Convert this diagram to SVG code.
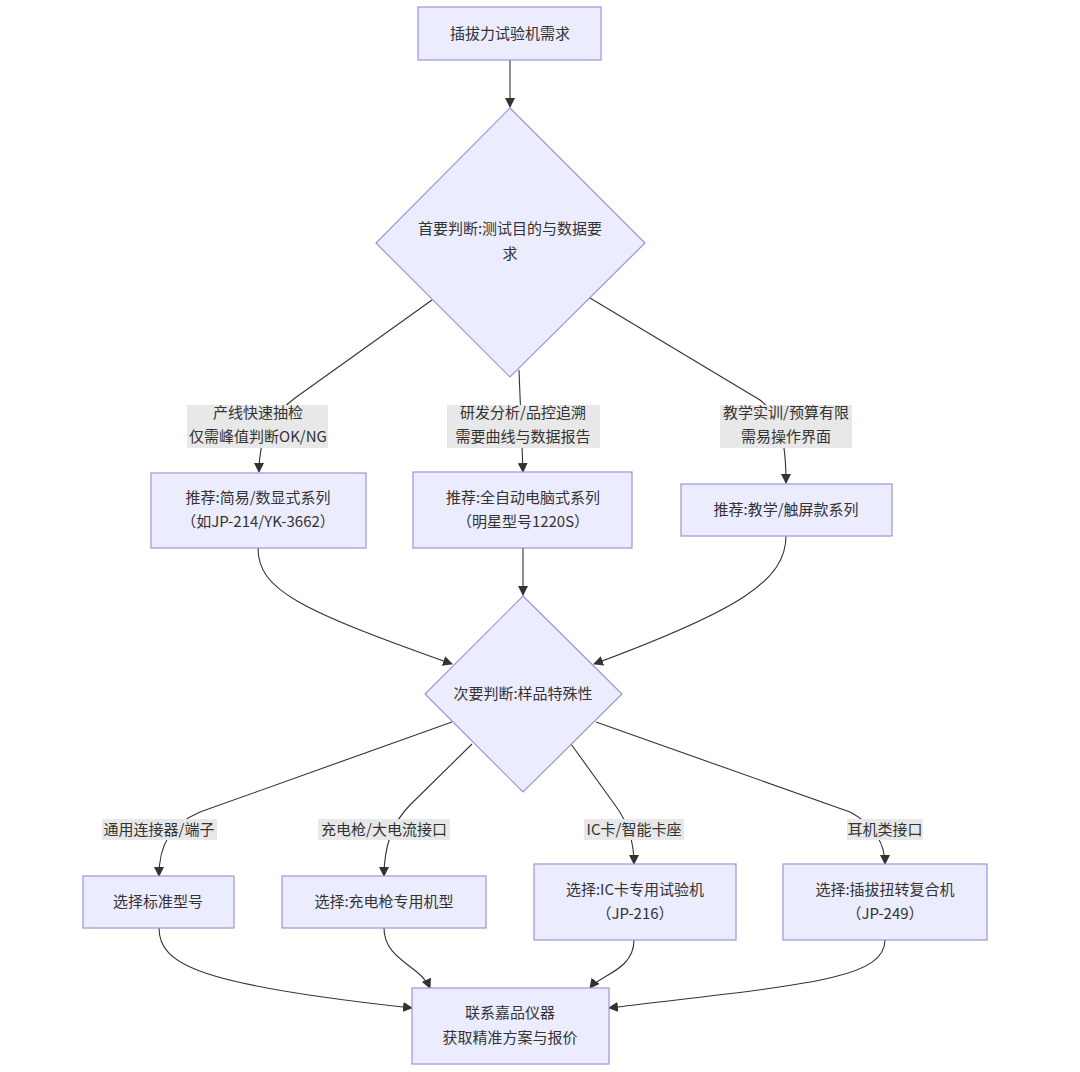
<svg xmlns="http://www.w3.org/2000/svg" width="1080" height="1072" viewBox="0 0 1080 1072">
<style>
.node{fill:#ECECFF;stroke:#9F93D6;stroke-width:1.2}
.t{font-family:"Noto Sans CJK SC","Noto Sans",sans-serif;font-size:15px;fill:#333;text-anchor:middle}
.e{fill:none;stroke:#333;stroke-width:1.1}
.lb{fill:#e8e8e8}
</style>
<defs>
<marker id="ah" markerUnits="userSpaceOnUse" markerWidth="10" markerHeight="10" viewBox="0 0 10 10" refX="9" refY="5" orient="auto">
<path d="M0,0 L10,5 L0,10 z" fill="#333"/>
</marker>
</defs>
<rect width="1080" height="1072" fill="#fff"/>
<g id="connectors">
<path class="e" marker-end="url(#ah)" d="M510,60 L510,107"/>
<path class="e" marker-end="url(#ah)" d="M432,300 L295,398 C268,418 259,440 259,472"/>
<path class="e" marker-end="url(#ah)" d="M519,370 L523,472"/>
<path class="e" marker-end="url(#ah)" d="M590,298 L760,400 C780,415 786,440 786,483"/>
<path class="e" marker-end="url(#ah)" d="M258,548 C258,590 300,610 452,664"/>
<path class="e" marker-end="url(#ah)" d="M523,548 L523,595"/>
<path class="e" marker-end="url(#ah)" d="M786,536 C786,580 740,610 594,664"/>
<path class="e" marker-end="url(#ah)" d="M452,722 L200,812 C170,825 159,845 159,876"/>
<path class="e" marker-end="url(#ah)" d="M472,744 L410,805 C390,825 384,850 384,876"/>
<path class="e" marker-end="url(#ah)" d="M571,744 L615,805 C630,825 634,845 634,864"/>
<path class="e" marker-end="url(#ah)" d="M596,722 L850,812 C875,825 885,845 885,864"/>
<path class="e" marker-end="url(#ah)" d="M159,928 C159,965 200,985 412,1008"/>
<path class="e" marker-end="url(#ah)" d="M384,928 C384,960 420,965 430,988"/>
<path class="e" marker-end="url(#ah)" d="M634,940 C634,970 600,975 590,988"/>
<path class="e" marker-end="url(#ah)" d="M885,940 C885,980 800,985 609,1008"/>
</g>
<g id="edge-labels">
<rect class="lb" x="187" y="405" width="141" height="43"/>
<text class="t" x="258" y="418">产线快速抽检</text>
<text class="t" x="258" y="442">仅需峰值判断OK/NG</text>
<rect class="lb" x="447" y="405" width="153" height="43"/>
<text class="t" x="523" y="418">研发分析/品控追溯</text>
<text class="t" x="523" y="442">需要曲线与数据报告</text>
<rect class="lb" x="720" y="405" width="132" height="43"/>
<text class="t" x="786" y="418">教学实训/预算有限</text>
<text class="t" x="786" y="442">需易操作界面</text>
<rect class="lb" x="102" y="819" width="115" height="21"/>
<text class="t" x="159" y="835">通用连接器/端子</text>
<rect class="lb" x="318" y="819" width="132" height="21"/>
<text class="t" x="384" y="835">充电枪/大电流接口</text>
<rect class="lb" x="584" y="819" width="100" height="21"/>
<text class="t" x="634" y="835">IC卡/智能卡座</text>
<rect class="lb" x="847" y="819" width="76" height="21"/>
<text class="t" x="885" y="835">耳机类接口</text>
</g>
<g id="n-start">
<rect class="node" x="418" y="7" width="183" height="53"/>
<text class="t" x="510" y="39">插拔力试验机需求</text>
</g>
<g id="n-d1">
<polygon class="node" points="510,108 645,243 510,377 376,243"/>
<text class="t" x="510" y="234">首要判断:测试目的与数据要</text>
<text class="t" x="510" y="259">求</text>
</g>
<g id="n-r1">
<rect class="node" x="151" y="473" width="215" height="75"/>
<text class="t" x="258" y="503">推荐:简易/数显式系列</text>
<text class="t" x="258" y="527">（如JP-214/YK-3662）</text>
</g>
<g id="n-r2">
<rect class="node" x="413" y="472" width="219" height="76"/>
<text class="t" x="523" y="503">推荐:全自动电脑式系列</text>
<text class="t" x="523" y="527">（明星型号1220S）</text>
</g>
<g id="n-r3">
<rect class="node" x="681" y="484" width="211" height="52"/>
<text class="t" x="786" y="515">推荐:教学/触屏款系列</text>
</g>
<g id="n-d2">
<polygon class="node" points="523,596 622,694 523,792 425,694"/>
<text class="t" x="523" y="699">次要判断:样品特殊性</text>
</g>
<g id="n-s1">
<rect class="node" x="83" y="876" width="151" height="52"/>
<text class="t" x="158" y="907">选择标准型号</text>
</g>
<g id="n-s2">
<rect class="node" x="282" y="876" width="204" height="52"/>
<text class="t" x="384" y="907">选择:充电枪专用机型</text>
</g>
<g id="n-s3">
<rect class="node" x="534" y="864" width="202" height="76"/>
<text class="t" x="635" y="895">选择:IC卡专用试验机</text>
<text class="t" x="635" y="919">（JP-216）</text>
</g>
<g id="n-s4">
<rect class="node" x="783" y="864" width="204" height="76"/>
<text class="t" x="885" y="895">选择:插拔扭转复合机</text>
<text class="t" x="885" y="919">（JP-249）</text>
</g>
<g id="n-end">
<rect class="node" x="412" y="988" width="197" height="76"/>
<text class="t" x="510" y="1018">联系嘉品仪器</text>
<text class="t" x="510" y="1043">获取精准方案与报价</text>
</g>
</svg>
